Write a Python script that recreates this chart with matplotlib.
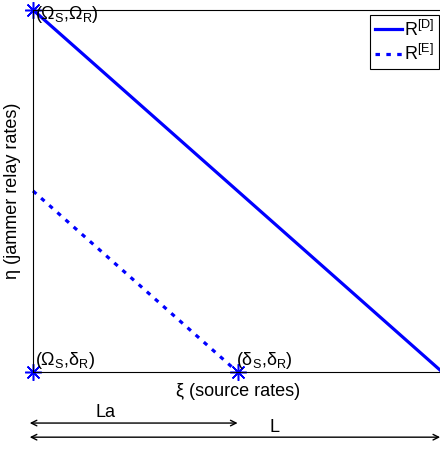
import matplotlib
matplotlib.use("Agg")
import matplotlib.pyplot as plt

plt.rcParams['font.family'] = ['Liberation Sans', 'DejaVu Sans']
plt.rcParams['mathtext.fontset'] = 'custom'
plt.rcParams['mathtext.rm'] = 'Liberation Sans'
plt.rcParams['mathtext.it'] = 'Liberation Sans'
plt.rcParams['mathtext.default'] = 'regular'

# region boundaries (normalised rates)
xi_D = [0.0, 1.0]
eta_D = [1.0, 0.0]
xi_E = [0.0, 0.5]
eta_E = [0.5, 0.0]

# corner points and their labels
pt_x = [0.0, 0.0, 0.5]
pt_y = [1.0, 0.0, 0.0]
pt_labels = [r'$(\Omega_S{,}\Omega_R)$', r'$(\Omega_S{,}\delta_R)$', r'$(\delta_S{,}\delta_R)$']

# lengths shown under the axis
La = 0.5
L = 1.0

fs = 13

fig = plt.figure(figsize=(4.4, 4.49), dpi=100)
ax = fig.add_axes([0.075, 0.1715, 0.93, 0.8065])

ax.plot(xi_D, eta_D, color='blue', lw=2.3, label='R$^{[D]}$', clip_on=False)
ax.plot(xi_E, eta_E, color='blue', lw=2.3, ls=(0, (1.4, 2.0)), label='R$^{[E]}$', clip_on=False)
ax.plot(pt_x, pt_y, ls='none', marker=(8, 2, 0), color='blue', ms=12, mew=1.1, clip_on=False)

ax.text(pt_x[0] + 0.006, pt_y[0] - 0.012, pt_labels[0], fontsize=fs, va='center', ha='left')
ax.text(pt_x[1] + 0.006, pt_y[1] + 0.002, pt_labels[1], fontsize=fs, va='bottom', ha='left')
ax.text(pt_x[2] - 0.003, pt_y[2] + 0.002, pt_labels[2], fontsize=fs, va='bottom', ha='left')

ax.set_xlim(0, 1)
ax.set_ylim(0, 1)
ax.set_xticks([])
ax.set_yticks([])
ax.set_xlabel('ξ (source rates)', fontsize=fs)
ax.set_ylabel('η (jammer relay rates)', fontsize=fs)
ax.xaxis.set_label_coords(0.5, -0.03)
ax.yaxis.set_label_coords(-0.03, 0.5)

tr = ax.get_xaxis_transform()
ax.annotate('', xy=(-0.008, -0.141), xytext=(La, -0.141), xycoords=tr, textcoords=tr,
            arrowprops=dict(arrowstyle='<->', lw=1.0, color='black', shrinkA=0, shrinkB=0))
ax.annotate('', xy=(-0.008, -0.180), xytext=(L - 0.005, -0.180), xycoords=tr, textcoords=tr,
            arrowprops=dict(arrowstyle='<->', lw=1.0, color='black', shrinkA=0, shrinkB=0))
ax.text(0.177, -0.112, 'La', transform=tr, fontsize=fs, ha='center', va='center')
ax.text(0.59, -0.152, 'L', transform=tr, fontsize=fs, ha='center', va='center')

leg = ax.legend(loc='upper right', fontsize=fs, handlelength=1.5, handletextpad=0.15,
                borderpad=0.25, labelspacing=0.25, borderaxespad=0.0, fancybox=False,
                edgecolor='black', framealpha=1.0, bbox_to_anchor=(0.993, 0.986))
leg.get_frame().set_linewidth(0.8)

fig.savefig('out.png', dpi=100)
